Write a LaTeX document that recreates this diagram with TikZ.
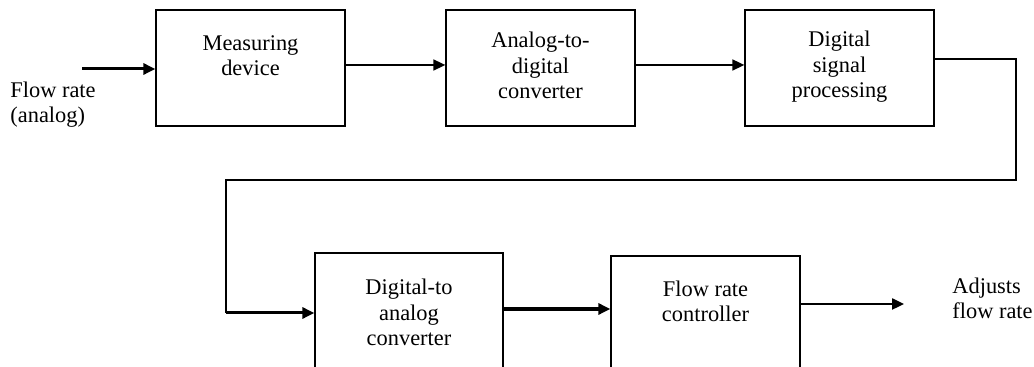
\documentclass[tikz,border=0pt]{standalone}
\usepackage{fontspec}
\setmainfont{Liberation Serif}
\usetikzlibrary{arrows.meta}
\tikzset{
    block/.style={draw, rectangle, line width=0.65pt, minimum width=94.5pt,
    	minimum height=58pt, inner sep=0pt},
    txt/.style={align=center, inner sep=0pt, anchor=base,
    	font=\fontsize{11.2}{12.75}\selectfont},
    side/.style={txt, align=left, anchor=base west},
    sig/.style={line width=0.85pt, -{Triangle[length=6pt,width=5.5pt]}},
    wire/.style={line width=0.65pt}
}

\begin{document}
\begin{tikzpicture}[x=0.5pt, y=-0.5pt]
  \useasboundingbox (0, 0) rectangle (1034, 367);
  \clip (0, 0) rectangle (1034, 367);

  \node (meas) [block] at (250.5, 68) {};
  \node (adc) [block] at (540.5, 68) {};
  \node (dsp) [block] at (839.5, 68) {};
  \node (dac) [block, minimum width=94pt, minimum height=73.5pt] at (409, 326.5) {};
  \node (ctrl) [block, minimum height=72pt] at (705.5, 328) {};

  \node (measT) [txt] at (250.5, 76) {Measuring\\device};
  \node (adcT) [txt] at (540.5, 99) {Analog-to-\\digital\\converter};
  \node (dspT) [txt] at (839.5, 98) {Digital\\signal\\processing};
  \node (dacT) [txt] at (409, 346) {Digital-to\\analog\\converter};
  \node (ctrlT) [txt] at (705.5, 322) {Flow rate\\controller};

  \node (inT) [side] at (10, 123) {Flow rate\\(analog)};
  \node (outT) [side] at (952, 319) {Adjusts\\flow rate};

  \coordinate (in) at (82, 69);
  \coordinate (out) at (904, 304);
  \coordinate (c1) at (1016, 180);
  \coordinate (c2) at (226, 180);
  \coordinate (c3) at (226, 313);

  \draw [sig, line width=1.5pt] (in) -- (in -| meas.west);
  \draw [sig] ([yshift=1.5pt]meas.east) -- ([yshift=1.5pt]adc.west);
  \draw [sig] ([yshift=1.5pt]adc.east) -- ([yshift=1.5pt]dsp.west);
  \draw [wire] ([yshift=4.5pt]dsp.east) -| (c1) -- (c2) -- (c3);
  \draw [sig, line width=1.5pt] (c3) -- (c3 -| dac.west);
  \draw [sig, line width=2pt] ([yshift=8.75pt]dac.east)
  	-- ([yshift=8.75pt]dac.east -| ctrl.west);
  \draw [sig, line width=1.2pt] (ctrl.east |- out) -- (out);
\end{tikzpicture}
\end{document}
